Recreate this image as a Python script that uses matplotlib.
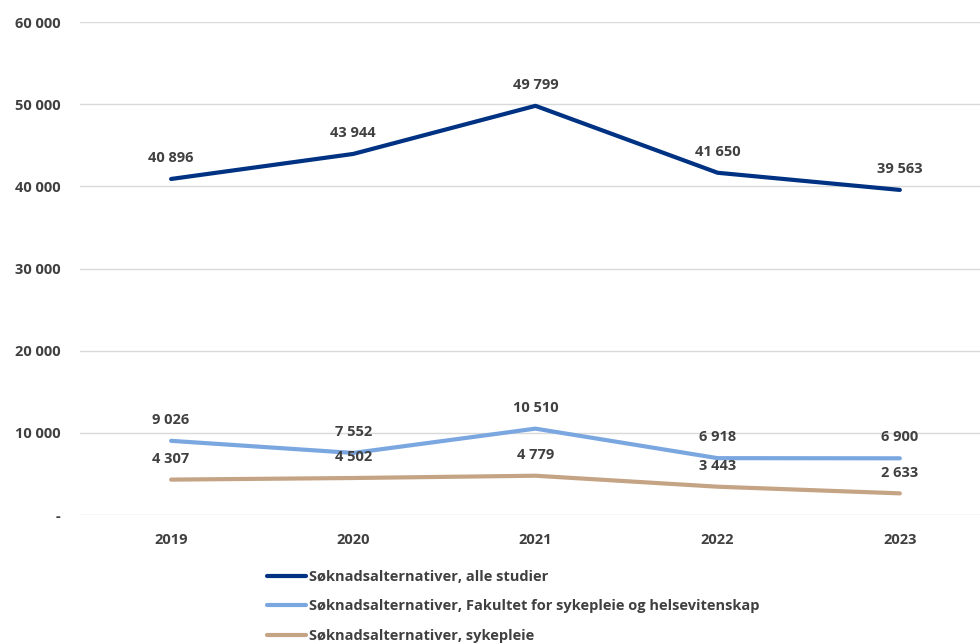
import matplotlib.pyplot as plt
from matplotlib.ticker import FuncFormatter

years = ["2019", "2020", "2021", "2022", "2023"]
alle = [40896, 43944, 49799, 41650, 39563]
fakultet = [9026, 7552, 10510, 6918, 6900]
sykepleie = [4307, 4502, 4779, 3443, 2633]
names = ["Søknadsalternativer, alle studier",
         "Søknadsalternativer, Fakultet for sykepleie og helsevitenskap",
         "Søknadsalternativer, sykepleie"]
colors = ["#003283", "#7ba7e1", "#c4a484"]

plt.rcParams['font.family'] = ['Open Sans', 'DejaVu Sans']
plt.rcParams['font.weight'] = 'bold'
txt = "#404040"
fs = 10.5

def fmt(v, pos=None):
    if v == 0:
        return "-"
    return f"{int(v):,}".replace(",", " ")

fig = plt.figure(figsize=(9.8, 6.43), dpi=100)
ax = fig.add_axes([80/980, 128/643, 900/980, 493/643])

x = list(range(len(years)))
for vals, c, n in zip([alle, fakultet, sykepleie], colors, names):
    ax.plot(x, vals, color=c, lw=3, label=n, solid_capstyle='round')
    for xi, v in zip(x, vals):
        ax.annotate(fmt(v), (xi, v), xytext=(0, 15), textcoords='offset points',
                    ha='center', va='center', fontsize=fs, color=txt, fontweight='bold')

ax.set_xlim(-0.5, 4.44)
ax.set_ylim(0, 60000)
ax.set_yticks(range(0, 60001, 10000))
ax.yaxis.set_major_formatter(FuncFormatter(fmt))
ax.set_xticks(x)
ax.set_xticklabels(years)
ax.grid(axis='y', color='#d9d9d9', lw=1)
ax.set_axisbelow(True)
for s in ax.spines.values():
    s.set_visible(False)
ax.tick_params(length=0, labelsize=fs, labelcolor=txt)
ax.tick_params(axis='x', pad=13)
ax.tick_params(axis='y', pad=14)
for lab in ax.get_xticklabels() + ax.get_yticklabels():
    lab.set_fontweight('bold')

fig.legend(loc='upper left', bbox_to_anchor=(267/980, 1 - 570/643), frameon=False,
           fontsize=fs, labelcolor=txt, handlelength=2.7, handletextpad=0.2,
           labelspacing=1.05, borderaxespad=0, borderpad=0)

fig.savefig("out.png", dpi=100)
